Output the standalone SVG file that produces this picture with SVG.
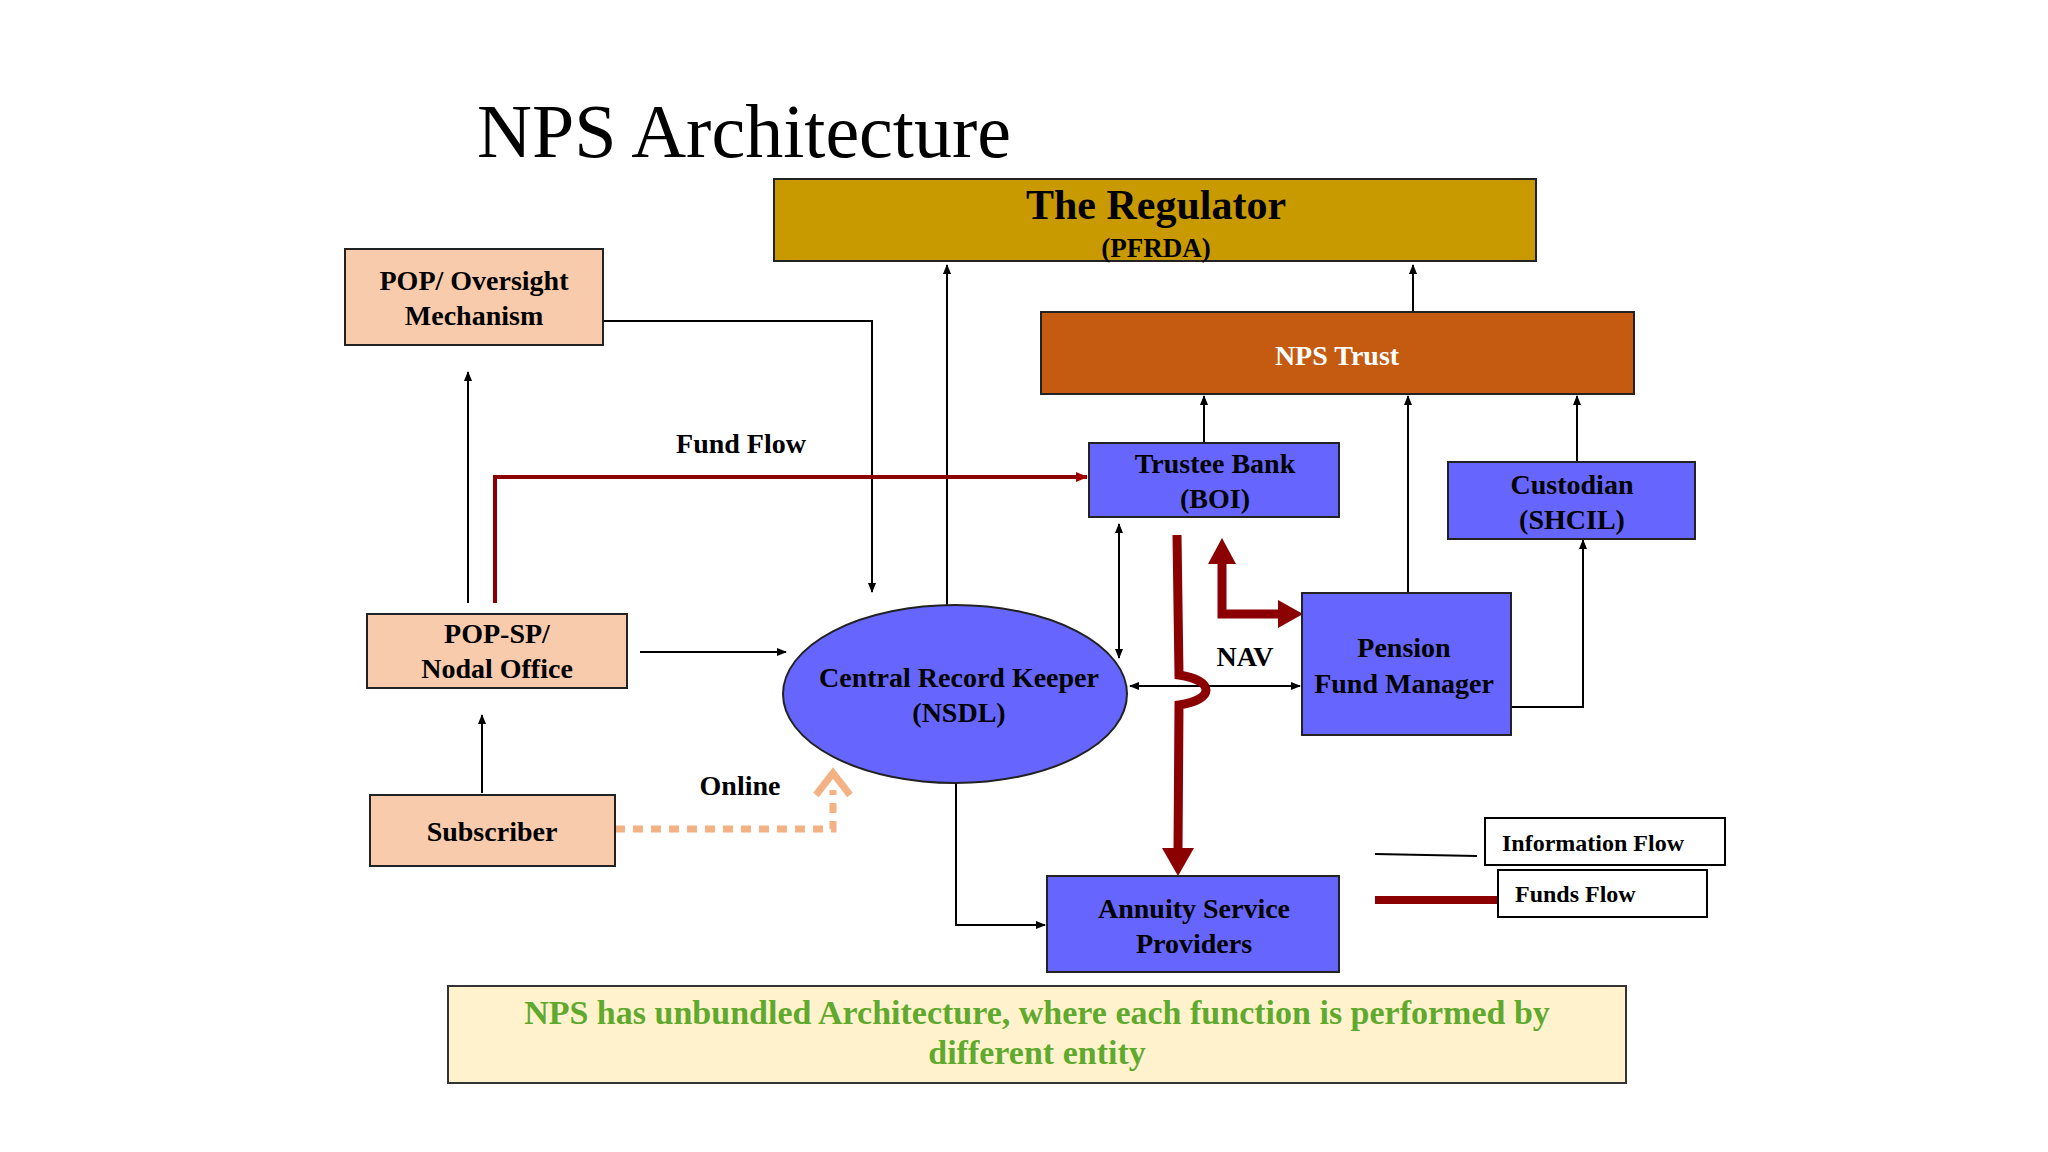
<svg xmlns="http://www.w3.org/2000/svg" width="2048" height="1152" viewBox="0 0 2048 1152">
<defs>
<style>
text{font-family:"Liberation Serif","DejaVu Serif",serif;font-weight:bold;text-anchor:middle;fill:#000}
.n{stroke:#222;stroke-width:2}
.t{font-size:28px}
.c{fill:none;stroke:#000;stroke-width:2}
.r{fill:none;stroke:#8B0000}
</style>
<marker id="a" markerWidth="10" markerHeight="10" refX="9" refY="5" orient="auto-start-reverse" markerUnits="userSpaceOnUse"><path d="M0,1 L10,5 L0,9 z" fill="#000"/></marker>
<marker id="ra" markerWidth="12" markerHeight="12" refX="11" refY="6" orient="auto" markerUnits="userSpaceOnUse"><path d="M0,1 L12,6 L0,11 z" fill="#A00000"/></marker>
</defs>
<rect width="2048" height="1152" fill="#fff"/>
<text x="477" y="157" style="font-size:76px;font-weight:normal;text-anchor:start">NPS Architecture</text>
<g id="connectors">
<path class="c" d="M603,321 H872 V592" marker-end="url(#a)"/>
<path class="c" d="M947,605 V265" marker-end="url(#a)"/>
<path class="c" d="M468,603 V372" marker-end="url(#a)"/>
<path class="c" d="M482,793 V715" marker-end="url(#a)"/>
<path class="c" d="M640,652 H786" marker-end="url(#a)"/>
<path class="c" d="M1119,524 V658" marker-start="url(#a)" marker-end="url(#a)"/>
<path class="c" d="M1204,443 V396" marker-end="url(#a)"/>
<path class="c" d="M1408,593 V396" marker-end="url(#a)"/>
<path class="c" d="M1577,462 V396" marker-end="url(#a)"/>
<path class="c" d="M1413,312 V265" marker-end="url(#a)"/>
<path class="c" d="M1511,707 H1583 V540" marker-end="url(#a)"/>
<path class="c" d="M1130,686 H1300" marker-start="url(#a)" marker-end="url(#a)"/>
<path class="c" d="M956,783 V925 H1045" marker-end="url(#a)"/>
<path class="r" stroke="#A00000" stroke-width="4" d="M495,603 V477 H1087" marker-end="url(#ra)"/>
<path class="r" stroke-width="9" d="M1177,535 L1179,675 C1215,680 1215,700 1179,705 L1178,850"/>
<path d="M1162,848 L1194,848 L1178,876 z" fill="#8B0000"/>
<path class="r" stroke-width="9" d="M1222,562 V614 H1280"/>
<path d="M1208,564 L1236,564 L1222,538 z" fill="#8B0000"/>
<path d="M1278,600 L1278,628 L1303,614 z" fill="#8B0000"/>
<path fill="none" stroke="#F4B183" stroke-width="7" stroke-dasharray="10,8" d="M615,829 H833 V790"/>
<path fill="none" stroke="#F4B183" stroke-width="7" d="M816,795 L833,773 L850,795"/>
<path class="c" d="M1375,854 L1477,856"/>
<path stroke="#8B0000" stroke-width="8" d="M1375,900 H1498"/>
</g>
<g id="regulator"><rect class="n" x="774" y="179" width="762" height="82" fill="#C99A00"/><text x="1156" y="219" style="font-size:42px">The Regulator</text><text x="1156" y="257" style="font-size:27px">(PFRDA)</text></g>
<g id="npstrust"><rect class="n" x="1041" y="312" width="593" height="82" fill="#C55A11"/><text x="1337" y="365" class="t" style="fill:#fff">NPS Trust</text></g>
<g id="popoversight"><rect class="n" x="345" y="249" width="258" height="96" fill="#F8CBAD"/><text x="474" y="290" class="t">POP/ Oversight</text><text x="474" y="325" class="t">Mechanism</text></g>
<g id="trustee"><rect class="n" x="1089" y="443" width="250" height="74" fill="#6666FF"/><text x="1215" y="473" class="t">Trustee Bank</text><text x="1215" y="508" class="t">(BOI)</text></g>
<g id="custodian"><rect class="n" x="1448" y="462" width="247" height="77" fill="#6666FF"/><text x="1572" y="494" class="t">Custodian</text><text x="1572" y="529" class="t">(SHCIL)</text></g>
<g id="popsp"><rect class="n" x="367" y="614" width="260" height="74" fill="#F8CBAD"/><text x="497" y="643" class="t">POP-SP/</text><text x="497" y="678" class="t">Nodal Office</text></g>
<g id="subscriber"><rect class="n" x="370" y="795" width="245" height="71" fill="#F8CBAD"/><text x="492" y="841" class="t">Subscriber</text></g>
<g id="crk"><ellipse class="n" cx="955" cy="694" rx="172" ry="89" fill="#6666FF"/><text x="959" y="687" class="t">Central Record Keeper</text><text x="959" y="722" class="t">(NSDL)</text></g>
<g id="pfm"><rect class="n" x="1302" y="593" width="209" height="142" fill="#6666FF"/><text x="1404" y="657" class="t">Pension</text><text x="1404" y="693" class="t">Fund Manager</text></g>
<g id="asp"><rect class="n" x="1047" y="876" width="292" height="96" fill="#6666FF"/><text x="1194" y="918" class="t">Annuity Service</text><text x="1194" y="953" class="t">Providers</text></g>
<g id="labels"><text x="741" y="453" class="t">Fund Flow</text><text x="740" y="795" class="t">Online</text><text x="1245" y="666" class="t">NAV</text></g>
<g id="legend"><rect x="1485" y="818" width="240" height="47" fill="#fff" stroke="#000" stroke-width="2"/><text x="1502" y="851" style="font-size:24px;text-anchor:start">Information Flow</text><rect x="1498" y="870" width="209" height="47" fill="#fff" stroke="#000" stroke-width="2"/><text x="1515" y="902" style="font-size:24px;text-anchor:start">Funds Flow</text></g>
<g id="note"><rect x="448" y="986" width="1178" height="97" fill="#FFF2CC" stroke="#333" stroke-width="2"/><text x="1037" y="1024" style="font-size:34px;fill:#5FAA2E">NPS has unbundled Architecture, where each function is performed by</text><text x="1037" y="1064" style="font-size:34px;fill:#5FAA2E">different entity</text></g>
</svg>
